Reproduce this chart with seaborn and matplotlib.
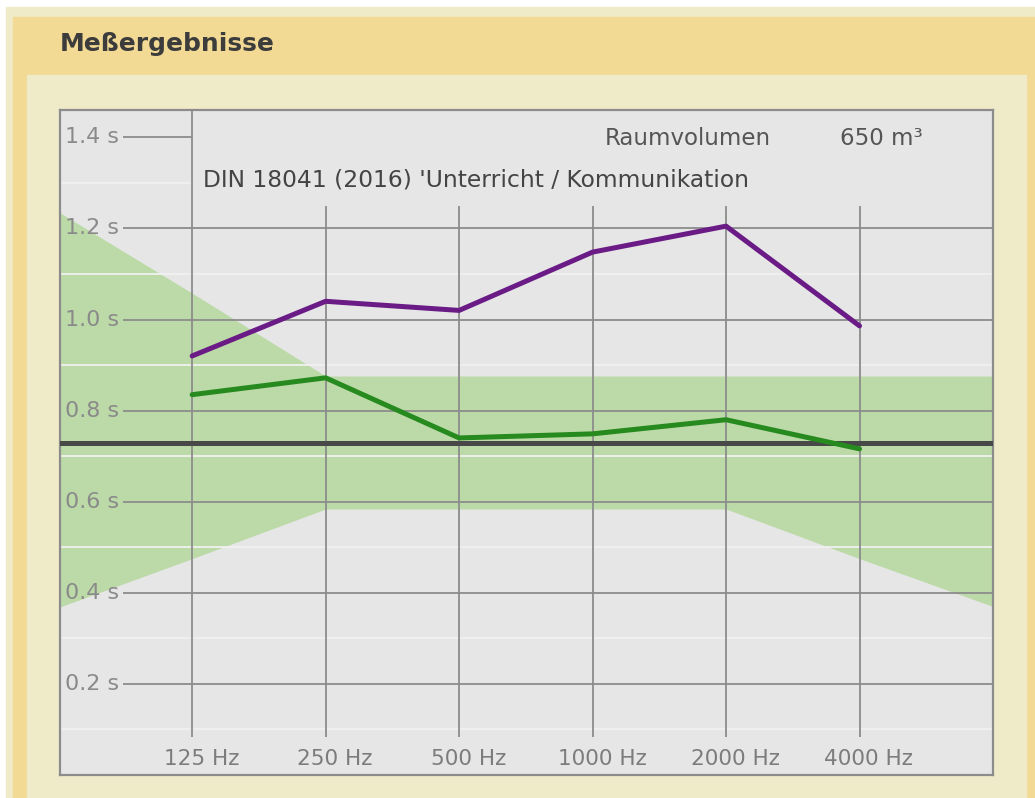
import numpy as np
import pandas as pd
import matplotlib.pyplot as plt
import seaborn as sns
from matplotlib.patches import Rectangle

# Octave bands shown on the chart
freqs = ['125 Hz', '250 Hz', '500 Hz', '1000 Hz', '2000 Hz', '4000 Hz']

# Measured reverberation times (s)
t_purple = [0.92, 1.04, 1.02, 1.148, 1.205, 0.986]
t_green = [0.835, 0.872, 0.74, 0.749, 0.78, 0.716]

# Target value and tolerance band (63 Hz ... 8000 Hz, one point left/right of the labelled bands)
t_soll = 0.73
band_pos = [-1, 0, 1, 2, 3, 4, 5, 6]
band_upper = [1.236, 1.058, 0.876, 0.876, 0.876, 0.876, 0.876, 0.876]
band_lower = [0.368, 0.475, 0.584, 0.584, 0.584, 0.584, 0.475, 0.370]

y_major = [0.2, 0.4, 0.6, 0.8, 1.0, 1.2, 1.4]
y_minor = [0.1, 0.3, 0.5, 0.7, 0.9, 1.1, 1.3]
y_labels = ['0.2 s', '0.4 s', '0.6 s', '0.8 s', '1.0 s', '1.2 s', '1.4 s']

volume_label = '650 m³'
norm_label = "DIN 18041 (2016) 'Unterricht / Kommunikation"

sns.set_style('white')
plt.rcParams['font.family'] = ['DejaVu Sans']

fig = plt.figure(figsize=(10.35, 7.98), dpi=100, facecolor='white')
W, H = 1035, 798

def px_rect(x0, y0, x1, y1, color):
    fig.patches.append(Rectangle((x0 / W, 1 - y1 / H), (x1 - x0) / W, (y1 - y0) / H,
                                 transform=fig.transFigure, color=color, zorder=-5))

# panel frame
px_rect(6, 7, 1035, 798, '#efebc8')
px_rect(13, 17, 1035, 798, '#f2d994')
px_rect(27, 75, 1026, 798, '#efebc8')
fig.text(60 / W, 1 - 44 / H, 'Meßergebnisse', fontsize=18, fontweight='bold',
         color='#3c3c3c', va='center', ha='left')

ax = fig.add_axes([60 / W, 1 - 775 / H, 933 / W, 665 / H])
ax.set_zorder(2)
ax.set_facecolor('#e6e6e6')
x = np.arange(len(freqs))

# tolerance band
ax.fill_between(band_pos, band_lower, band_upper, color='#bcdaa7', lw=0, zorder=1)

# light minor lines
for v in y_minor:
    right = 0 if v == y_minor[-1] else 6
    ax.hlines(v, -1, right, color='#f1f1f1', lw=1.3, zorder=2)

# major lines
for v in y_major:
    right = 0 if v == y_major[-1] else 6
    ax.hlines(v, -0.52, right, color='#8c8c8c', lw=1.3, zorder=3)

# vertical lines at the bands
for i in x:
    top = 1.46 if i == 0 else 1.25
    ax.vlines(i, 0.084, top, color='#8c8c8c', lw=1.3, zorder=3)

ax.axhline(t_soll, color='#484848', lw=3.6, zorder=4)

sns.lineplot(x=x, y=t_purple, color='#6a1b86', lw=3.6, ax=ax, zorder=5)
sns.lineplot(x=x, y=t_green, color='#268a1e', lw=3.6, ax=ax, zorder=5)

for v, lab in zip(y_major, y_labels):
    ax.text(-0.95, v, lab, fontsize=16, color='#8a8a8a', va='center', ha='left', zorder=6)
for i, lab in zip(x, freqs):
    ax.text(i + 0.07, 0.035, lab, fontsize=15.5, color='#7c7c7c', va='center', ha='center', zorder=6)

ax.text(3.09, 1.398, 'Raumvolumen', fontsize=16.5, color='#555555', va='center', ha='left')
ax.text(4.85, 1.398, volume_label, fontsize=16.5, color='#555555', va='center', ha='left')
ax.text(0.08, 1.306, norm_label, fontsize=16.8, color='#444444', va='center', ha='left')

ax.set_xlim(-0.99, 6.0)
ax.set_ylim(0, 1.46)
ax.set_xticks([])
ax.set_yticks([])
ax.set_xlabel('')
ax.set_ylabel('')
for s in ax.spines.values():
    s.set_visible(True)
    s.set_color('#8c8c8c')
    s.set_linewidth(1.6)

fig.savefig('out.png', dpi=100, facecolor=fig.get_facecolor())
